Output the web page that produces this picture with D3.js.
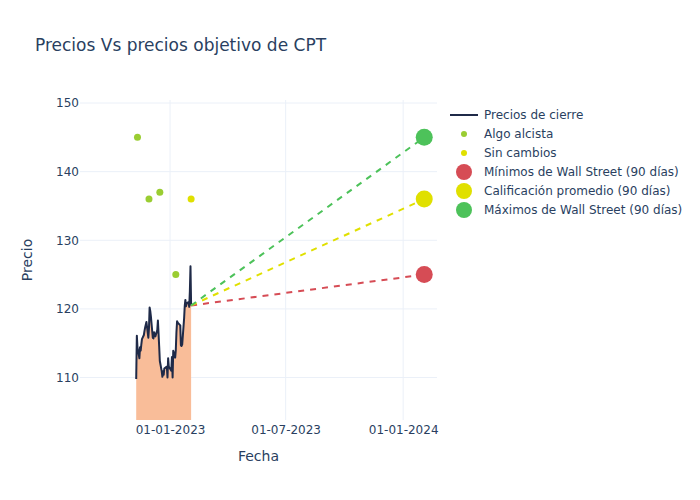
<!DOCTYPE html>
<html><head><meta charset="utf-8">
<script src="https://cdn.jsdelivr.net/npm/d3@7"></script>
<style>body{margin:0;background:#fff}svg{font-family:"DejaVu Sans",sans-serif}</style>
</head><body><svg id="c" width="700" height="500"></svg>
<script>
const priceDates = ["2022-11-09","2022-11-10","2022-11-11","2022-11-14","2022-11-15","2022-11-16","2022-11-17","2022-11-18","2022-11-21","2022-11-22","2022-11-23","2022-11-25","2022-11-28","2022-11-29","2022-11-30","2022-12-01","2022-12-02","2022-12-05","2022-12-06","2022-12-07","2022-12-08","2022-12-09","2022-12-12","2022-12-13","2022-12-14","2022-12-15","2022-12-16","2022-12-19","2022-12-20","2022-12-21","2022-12-22","2022-12-23","2022-12-27","2022-12-28","2022-12-29","2022-12-30","2023-01-03","2023-01-04","2023-01-05","2023-01-06","2023-01-09","2023-01-10","2023-01-11","2023-01-12","2023-01-13","2023-01-17","2023-01-18","2023-01-19","2023-01-20","2023-01-23","2023-01-24","2023-01-25","2023-01-26","2023-01-27","2023-01-30","2023-01-31","2023-02-01","2023-02-02","2023-02-03"];
const priceValues = [109.8,116.1,114.4,112.8,114.4,113.9,114.8,115.6,116.2,116.8,117.3,118.1,115.8,117.2,120.2,119.7,118.9,115.8,115.7,116.6,116.2,116.0,116.9,118.3,116.4,114.5,112.4,110.9,110.1,110.9,110.4,111.3,111.6,110.0,112.8,111.6,111.0,113.0,110.0,113.9,112.9,114.0,116.6,118.2,118.0,117.6,114.7,114.6,114.8,118.6,120.4,121.3,120.4,120.8,121.0,120.3,122.5,126.2,120.5];

const alcistaDates = ["2022-11-11","2022-11-29","2022-12-16","2023-01-10"];
const alcistaValues = [145,136,137,125];
const sinCambiosDates = ["2023-02-03"];
const sinCambiosValues = [136];

const targetStartDate = "2023-02-03";
const targetEndDate = "2024-02-03";
const targetNames = ["Mínimos de Wall Street (90 días)","Calificación promedio (90 días)","Máximos de Wall Street (90 días)"];
const targetValues = [125,136,145];
const targetColors = ["#d64c55","#e0e000","#4dc25a"];

const yTicks = [110,120,130,140,150];
const xTickDates = ["2023-01-01","2023-07-01","2024-01-01"];

const parse = d3.timeParse("%Y-%m-%d");
const svg = d3.select("#c");
const L=80,R=437,T=100,B=420;
const x = d3.scaleTime().domain([parse("2022-08-13"),parse("2024-02-23")]).range([L,R]);
const y = d3.scaleLinear().domain([103.81,150.44]).range([B,T]);
const txt="#2a3f5f", grid="#ebf0f8";

// grid
svg.append("g").selectAll("line").data(yTicks).join("line")
  .attr("x1",L).attr("x2",R).attr("y1",d=>y(d)).attr("y2",d=>y(d)).attr("stroke",grid).attr("stroke-width",1);
svg.append("g").selectAll("line").data(xTickDates).join("line")
  .attr("y1",T).attr("y2",B).attr("x1",d=>x(parse(d))).attr("x2",d=>x(parse(d))).attr("stroke",grid).attr("stroke-width",1);

// axes
const yAxis = d3.axisLeft(y).tickValues(yTicks).tickSize(0).tickPadding(0);
const gy = svg.append("g").attr("transform",`translate(${L-1},0)`).call(yAxis);
gy.select(".domain").remove();
gy.selectAll("text").attr("fill",txt).attr("font-size",12).attr("font-family","DejaVu Sans");
const xAxis = d3.axisBottom(x).tickValues(xTickDates.map(parse)).tickFormat(d3.timeFormat("%d-%m-%Y")).tickSize(0).tickPadding(0);
const gx = svg.append("g").attr("transform",`translate(0,${B+5})`).call(xAxis);
gx.select(".domain").remove();
gx.selectAll("text").attr("fill",txt).attr("font-size",12).attr("font-family","DejaVu Sans").attr("dy","0.71em");

svg.append("clipPath").attr("id","clp").append("rect").attr("x",L).attr("y",T).attr("width",R-L).attr("height",B-T);
const plot = svg.append("g").attr("clip-path","url(#clp)");

const pts = priceDates.map((d,i)=>({d:parse(d),v:priceValues[i]}));
plot.append("path").datum(pts)
  .attr("d",d3.area().x(p=>x(p.d)).y0(B).y1(p=>y(p.v)))
  .attr("fill","#f9bd99");
plot.append("path").datum(pts)
  .attr("d",d3.line().x(p=>x(p.d)).y(p=>y(p.v)))
  .attr("fill","none").attr("stroke","#1f2a48").attr("stroke-width",2).attr("stroke-linejoin","round");

// dashed target lines
const startVal = priceValues[priceValues.length-1];
targetValues.forEach((v,i)=>{
  plot.append("line")
    .attr("x1",x(parse(targetStartDate))).attr("y1",y(startVal))
    .attr("x2",x(parse(targetEndDate))).attr("y2",y(v))
    .attr("stroke",targetColors[i]).attr("stroke-width",2).attr("stroke-dasharray","6,6");
});

// analyst dots
plot.selectAll(".alc").data(alcistaDates).join("circle")
  .attr("cx",d=>x(parse(d))).attr("cy",(d,i)=>y(alcistaValues[i])).attr("r",3.5).attr("fill","#9acd32");
plot.selectAll(".sc").data(sinCambiosDates).join("circle")
  .attr("cx",d=>x(parse(d))).attr("cy",(d,i)=>y(sinCambiosValues[i])).attr("r",3.5).attr("fill","#e0e000");

// target markers
svg.append("g").selectAll("circle").data(targetValues).join("circle")
  .attr("cx",x(parse(targetEndDate))).attr("cy",d=>y(d)).attr("r",8.5).attr("fill",(d,i)=>targetColors[i]);

// titles
svg.append("text").attr("x",35).attr("y",51).attr("font-size",17).attr("fill",txt).text("Precios Vs precios objetivo de CPT");
svg.append("text").attr("x",(L+R)/2).attr("y",461).attr("text-anchor","middle").attr("font-size",14).attr("fill",txt).text("Fecha");
svg.append("text").attr("transform",`translate(32,${(T+B)/2}) rotate(-90)`).attr("text-anchor","middle").attr("font-size",14).attr("fill",txt).text("Precio");

// legend
const legNames = ["Precios de cierre","Algo alcista","Sin cambios"].concat(targetNames);
const lg = svg.append("g");
legNames.forEach((n,i)=>{
  const yy = 115 + i*19;
  if(i===0){
    lg.append("line").attr("x1",450).attr("x2",478).attr("y1",yy).attr("y2",yy).attr("stroke","#1f2a48").attr("stroke-width",2);
  } else if(i<3){
    lg.append("circle").attr("cx",464).attr("cy",yy).attr("r",3).attr("fill",i===1?"#9acd32":"#e0e000");
  } else {
    lg.append("circle").attr("cx",464).attr("cy",yy).attr("r",8).attr("fill",targetColors[i-3]);
  }
  lg.append("text").attr("x",484).attr("y",yy).attr("dy","0.35em").attr("font-size",12).attr("fill",txt).text(n);
});
</script></body></html>
